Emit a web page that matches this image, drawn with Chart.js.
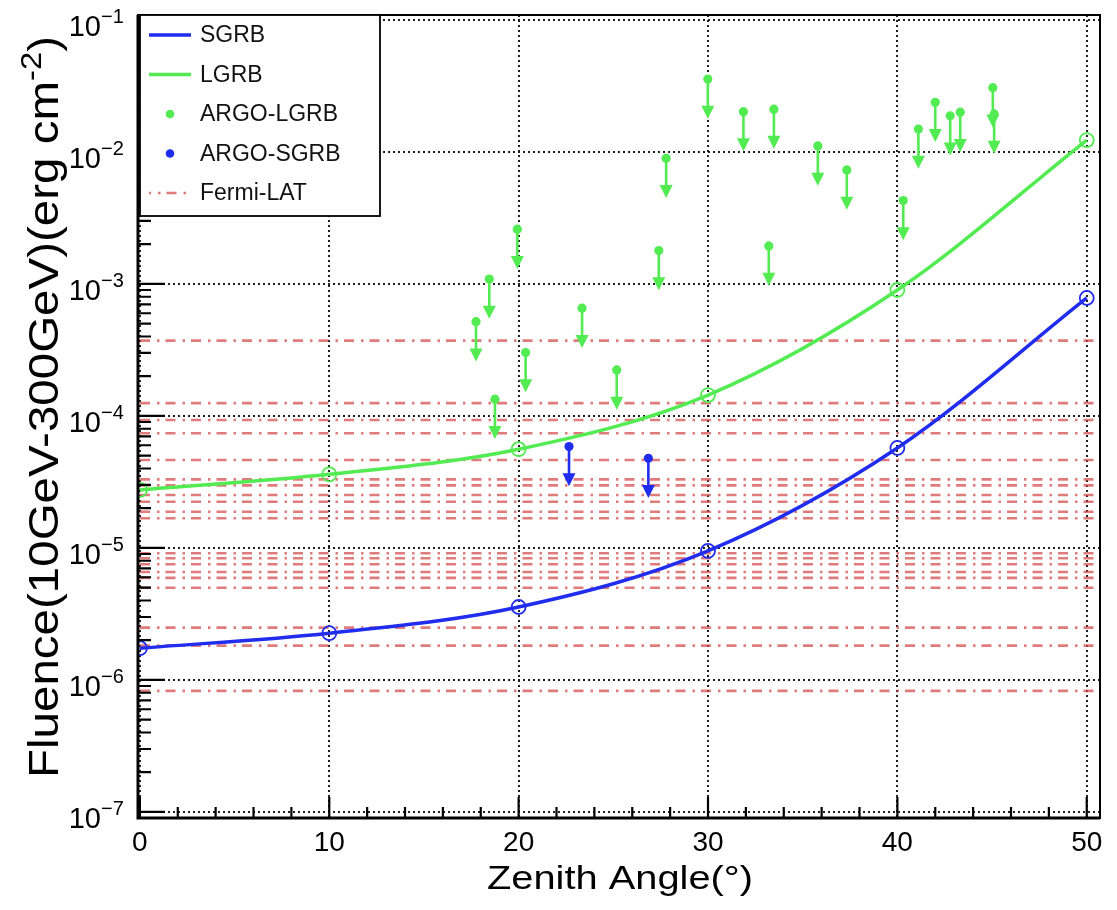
<!DOCTYPE html>
<html lang="en">
<head>
    <meta charset="UTF-8">
    <title>Fluence sensitivity vs zenith angle</title>
    <script src="https://cdn.jsdelivr.net/npm/chart.js"></script>
    <style>
        html, body { margin: 0; padding: 0; background: #fff; }
    </style>
</head>
<body>
    <canvas id="fluenceChart" width="1117" height="910"></canvas>

    <script>
        // sensitivity curves, sampled every 10 degrees
        const zenithAngles = [0, 10, 20, 30, 40, 50];
        const sgrbFluence = [1.74e-6, 2.26e-6, 3.57e-6, 9.5e-6, 5.72e-5, 7.83e-4];
        const lgrbFluence = [2.75e-5, 3.61e-5, 5.6e-5, 1.44e-4, 9.0e-4, 1.23e-2];

        // ARGO upper limits (long bursts)
        const argoLgrbZenith = [17.75, 18.45, 18.75, 19.93, 20.37, 23.35, 25.18, 27.40, 27.79, 29.99, 31.87,
            33.21, 33.48, 35.80, 37.33, 40.31, 41.11, 42.00, 42.79, 43.32, 45.04, 45.11];
        const argoLgrbLimit = [5.18e-4, 1.09e-3, 1.34e-4, 2.6e-3, 3.02e-4, 6.55e-4, 2.23e-4, 1.79e-3, 8.96e-3, 3.57e-2, 2.02e-2,
            1.94e-3, 2.11e-2, 1.11e-2, 7.31e-3, 4.28e-3, 1.49e-2, 2.38e-2, 1.88e-2, 2.0e-2, 3.07e-2, 1.94e-2];

        // ARGO upper limits (short bursts)
        const argoSgrbZenith = [22.66, 26.85];
        const argoSgrbLimit = [5.86e-5, 4.78e-5];

        // Fermi-LAT burst fluences, drawn as horizontal reference lines
        const fermiLatFluence = [3.72e-4, 1.25e-4, 9.33e-5, 7.39e-5, 4.64e-5, 3.31e-5, 2.98e-5, 2.52e-5, 2.24e-5,
            1.88e-5, 1.68e-5, 9.11e-6, 8.36e-6, 7.53e-6, 6.58e-6, 5.93e-6, 5.0e-6, 2.49e-6, 1.82e-6, 8.26e-7];

        const xTickValues = [0, 10, 20, 30, 40, 50];
        const yTickExponents = [-7, -6, -5, -4, -3, -2, -1];

        const X_MIN = -0.1, X_MAX = 50.7;
        const Y_MIN = 9.0e-8, Y_MAX = 0.109;
        const ARROW_FACTOR = 0.5;   // arrow tip sits a factor 2 below the limit

        const BLUE = 'rgb(32, 44, 238)';
        const GREEN = 'rgb(82, 236, 82)';
        const FERMI_RED = 'rgba(212, 72, 72, 0.72)';
        const FONT = '"Liberation Sans", Arial, Helvetica, sans-serif';

        const toPoints = (xs, ys) => xs.map((x, i) => ({ x: x, y: ys[i] }));

        const curveStyle = (color) => ({
            borderColor: color,
            backgroundColor: color,
            borderWidth: 3.5,
            pointStyle: 'circle',
            pointRadius: 7,
            pointBorderWidth: 1.8,
            pointBorderColor: color,
            pointBackgroundColor: 'rgba(0,0,0,0)',
            cubicInterpolationMode: 'monotone',
            fill: false,
            order: 1
        });

        const limitStyle = (color) => ({
            upperLimit: true,
            showLine: false,
            borderColor: color,
            backgroundColor: color,
            pointRadius: 4.6,
            pointBorderWidth: 0,
            order: 2
        });

        const fermiDatasets = fermiLatFluence.map(f => ({
            label: 'Fermi-LAT',
            data: [{ x: X_MIN, y: f }, { x: X_MAX, y: f }],
            borderColor: FERMI_RED,
            borderWidth: 2.6,
            borderDash: [10, 7, 2.5, 6],
            borderDashOffset: -2,
            pointRadius: 0,
            fill: false,
            order: 5
        }));

        // arrows hanging below each upper limit marker
        const upperLimitArrows = {
            id: 'upperLimitArrows',
            afterDatasetsDraw(chart) {
                const ctx = chart.ctx;
                const yScale = chart.scales.y;
                chart.data.datasets.forEach((ds, i) => {
                    if (!ds.upperLimit) return;
                    const meta = chart.getDatasetMeta(i);
                    ctx.save();
                    ctx.strokeStyle = ds.borderColor;
                    ctx.fillStyle = ds.borderColor;
                    ctx.lineWidth = 2.6;
                    meta.data.forEach((pt, j) => {
                        const tipY = yScale.getPixelForValue(ds.data[j].y * ARROW_FACTOR);
                        ctx.beginPath();
                        ctx.moveTo(pt.x, pt.y);
                        ctx.lineTo(pt.x, tipY - 10);
                        ctx.stroke();
                        ctx.beginPath();
                        ctx.moveTo(pt.x - 6.5, tipY - 13);
                        ctx.lineTo(pt.x + 6.5, tipY - 13);
                        ctx.lineTo(pt.x, tipY);
                        ctx.closePath();
                        ctx.fill();
                    });
                    ctx.restore();
                });
            }
        };

        // frame, inward ticks, axis labels and the boxed legend
        const rootStyleAxes = {
            id: 'rootStyleAxes',
            afterDraw(chart) {
                const ctx = chart.ctx;
                const area = chart.chartArea;
                const xs = chart.scales.x;
                const ys = chart.scales.y;

                ctx.save();
                ctx.strokeStyle = '#000';

                // minor + major ticks on the log axis
                ctx.lineWidth = 2.2;
                ctx.beginPath();
                for (let e = -8; e <= -1; e++) {
                    for (let m = 1; m <= 9; m++) {
                        const v = m * Math.pow(10, e);
                        if (v < Y_MIN || v > Y_MAX) continue;
                        const py = ys.getPixelForValue(v);
                        const len = m === 1 ? 27 : 13;
                        ctx.moveTo(area.left, py);
                        ctx.lineTo(area.left + len, py);
                    }
                }
                // ticks on the zenith axis, every 2 degrees
                for (let a = 0; a <= 50; a += 2) {
                    const px = xs.getPixelForValue(a);
                    const len = a % 10 === 0 ? 21 : 11;
                    ctx.moveTo(px, area.bottom);
                    ctx.lineTo(px, area.bottom - len);
                }
                ctx.stroke();

                // frame
                ctx.lineWidth = 2;
                ctx.strokeRect(area.left, area.top, area.right - area.left, area.bottom - area.top);
                ctx.lineWidth = 3;
                ctx.beginPath();
                ctx.moveTo(area.left, area.top);
                ctx.lineTo(area.left, area.bottom);
                ctx.lineTo(area.right, area.bottom);
                ctx.stroke();

                // tick labels
                ctx.fillStyle = '#000';
                ctx.textBaseline = 'alphabetic';
                ctx.font = '28px ' + FONT;
                ctx.textAlign = 'center';
                xTickValues.forEach(v => {
                    ctx.fillText(String(v), xs.getPixelForValue(v), 851);
                });
                yTickExponents.forEach(e => {
                    const py = ys.getPixelForValue(Math.pow(10, e));
                    ctx.font = '29px ' + FONT;
                    ctx.textAlign = 'right';
                    ctx.fillText('10', 101, py + 16);
                    ctx.font = '20px ' + FONT;
                    ctx.textAlign = 'left';
                    ctx.fillText('\u2212' + Math.abs(e), 101, py + 3);
                });

                // x title, stretched to the span of the original lettering
                ctx.font = '34px ' + FONT;
                ctx.textAlign = 'center';
                const xTitle = 'Zenith Angle(\u00b0)';
                const xw = ctx.measureText(xTitle).width;
                ctx.save();
                ctx.translate(620, 889);
                ctx.scale(266 / xw, 1);
                ctx.fillText(xTitle, 0, 0);
                ctx.restore();

                // y title with superscript
                const mainFont = '42px ' + FONT, supFont = '29px ' + FONT;
                const partA = 'Fluence(10GeV-300GeV)(erg cm', sup = '-2', partB = ')';
                ctx.font = mainFont;
                const wA = ctx.measureText(partA).width, wB = ctx.measureText(partB).width;
                ctx.font = supFont;
                const wS = ctx.measureText(sup).width;
                const total = wA + wS + wB;
                ctx.save();
                ctx.translate(58, 407);
                ctx.rotate(-Math.PI / 2);
                ctx.scale(742 / total, 1);
                ctx.textAlign = 'left';
                ctx.font = mainFont;
                ctx.fillText(partA, -total / 2, 0);
                ctx.font = supFont;
                ctx.fillText(sup, -total / 2 + wA, -17);
                ctx.font = mainFont;
                ctx.fillText(partB, -total / 2 + wA + wS, 0);
                ctx.restore();

                // legend box
                const lx = 140, ly = 15, lw = 240, lh = 201;
                ctx.fillStyle = '#fff';
                ctx.fillRect(lx, ly, lw, lh);
                ctx.lineWidth = 1.8;
                ctx.strokeStyle = '#000';
                ctx.strokeRect(lx, ly, lw, lh);

                const rows = [
                    { text: 'SGRB', kind: 'line', color: BLUE },
                    { text: 'LGRB', kind: 'line', color: GREEN },
                    { text: 'ARGO-LGRB', kind: 'dot', color: GREEN },
                    { text: 'ARGO-SGRB', kind: 'dot', color: BLUE },
                    { text: 'Fermi-LAT', kind: 'dash', color: FERMI_RED }
                ];
                ctx.font = '23px ' + FONT;
                ctx.textAlign = 'left';
                ctx.textBaseline = 'middle';
                rows.forEach((r, i) => {
                    const ry = 35 + i * 39.5;
                    ctx.strokeStyle = r.color;
                    ctx.fillStyle = r.color;
                    if (r.kind === 'line') {
                        ctx.lineWidth = 3.5;
                        ctx.beginPath();
                        ctx.moveTo(149, ry);
                        ctx.lineTo(191, ry);
                        ctx.stroke();
                    } else if (r.kind === 'dot') {
                        ctx.beginPath();
                        ctx.arc(170, ry, 4.3, 0, Math.PI * 2);
                        ctx.fill();
                    } else {
                        ctx.lineWidth = 2.4;
                        ctx.setLineDash([10, 7, 2.5, 6]);
                        ctx.lineDashOffset = 8;
                        ctx.beginPath();
                        ctx.moveTo(149, ry);
                        ctx.lineTo(191, ry);
                        ctx.stroke();
                        ctx.setLineDash([]);
                    }
                    ctx.fillStyle = '#111';
                    ctx.fillText(r.text, 200, ry + 1);
                });
                ctx.restore();
            }
        };

        const ctx = document.getElementById('fluenceChart').getContext('2d');
        new Chart(ctx, {
            type: 'line',
            data: {
                datasets: [
                    Object.assign({ label: 'SGRB', data: toPoints(zenithAngles, sgrbFluence) }, curveStyle(BLUE)),
                    Object.assign({ label: 'LGRB', data: toPoints(zenithAngles, lgrbFluence) }, curveStyle(GREEN)),
                    Object.assign({ label: 'ARGO-LGRB', data: toPoints(argoLgrbZenith, argoLgrbLimit) }, limitStyle(GREEN)),
                    Object.assign({ label: 'ARGO-SGRB', data: toPoints(argoSgrbZenith, argoSgrbLimit) }, limitStyle(BLUE))
                ].concat(fermiDatasets)
            },
            options: {
                responsive: false,
                animation: false,
                devicePixelRatio: 1,
                layout: { padding: { left: 138, top: 15, right: 17, bottom: 92 } },
                plugins: {
                    legend: { display: false },
                    tooltip: { enabled: false }
                },
                scales: {
                    x: {
                        type: 'linear',
                        min: X_MIN,
                        max: X_MAX,
                        afterBuildTicks: (scale) => { scale.ticks = xTickValues.map(v => ({ value: v })); },
                        ticks: { display: false },
                        grid: { color: 'rgba(20,20,20,0.95)', lineWidth: 2, drawTicks: false },
                        border: { display: false, dash: [2, 3] }
                    },
                    y: {
                        type: 'logarithmic',
                        min: Y_MIN,
                        max: Y_MAX,
                        afterBuildTicks: (scale) => { scale.ticks = yTickExponents.map(e => ({ value: Math.pow(10, e) })); },
                        ticks: { display: false },
                        grid: { color: 'rgba(20,20,20,0.95)', lineWidth: 2, drawTicks: false },
                        border: { display: false, dash: [2, 3] }
                    }
                }
            },
            plugins: [upperLimitArrows, rootStyleAxes]
        });
    </script>
</body>
</html>
